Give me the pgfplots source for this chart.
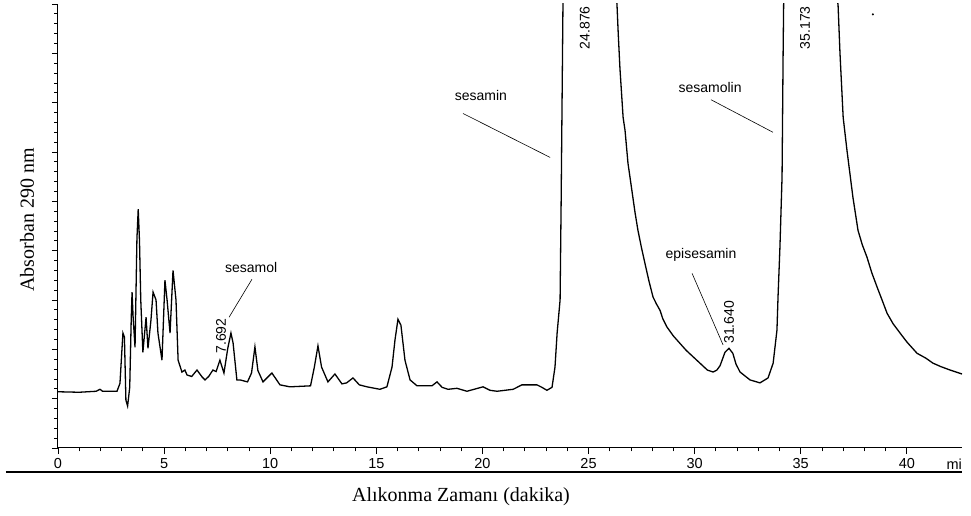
\documentclass[border=0pt]{standalone}
\usepackage{fontspec}
\setmainfont{Liberation Sans}
\newfontfamily\serif{Liberation Serif}
\usepackage{pgfplots}
\pgfplotsset{compat=1.18}

\begin{document}
\begin{tikzpicture}
\useasboundingbox (-58pt,-68pt) rectangle (913pt,448pt);
\begin{axis}[
    at={(0pt,0pt)}, anchor=south west,
    scale only axis,
    width=904pt, height=444pt,
    xmin=0, xmax=42.6,
    ymin=0, ymax=9,
    axis x line=bottom, axis y line=left,
    axis line style={-, line width=1pt},
    tick align=outside,
    xtick={0,5,...,40},
    minor x tick num=4,
    ytick={0,1,...,9},
    yticklabels={},
    minor y tick num=4,
    major tick length=6pt, minor tick length=3.5pt,
    every tick/.style={black, line width=0.8pt},
    /pgf/number format/assume math mode=true,
    xticklabel={\fontsize{14.5}{16}\selectfont\pgfmathprintnumber{\tick}},
    xticklabel style={yshift=-1pt},
    tick label style={black},
]

% chromatogram trace (absorbance in axis units, time in minutes)
\addplot[black, line width=1.3pt, sharp plot] coordinates {
 (0.00,1.14) (1.00,1.13) (1.80,1.15) (1.98,1.19) (2.10,1.15) (2.78,1.15)
 (2.92,1.31) (3.00,1.90) (3.06,2.33) (3.13,2.25) (3.20,0.97) (3.28,0.85)
 (3.38,1.23) (3.45,2.60) (3.49,3.16) (3.54,2.65) (3.63,2.04) (3.72,4.25)
 (3.78,4.84) (3.84,4.20) (3.90,3.00) (4.00,1.94) (4.15,2.65) (4.24,2.02)
 (4.38,2.59) (4.48,3.16) (4.62,3.00) (4.71,2.33) (4.90,1.78) (5.04,3.40)
 (5.14,3.00) (5.28,2.33) (5.42,3.60) (5.56,3.00) (5.66,1.78) (5.84,1.54)
 (5.98,1.58) (6.08,1.48) (6.30,1.45) (6.55,1.58) (6.79,1.44) (6.93,1.38)
 (7.10,1.45) (7.30,1.58) (7.45,1.55) (7.63,1.78) (7.82,1.52) (8.00,2.02)
 (8.15,2.33) (8.25,2.13) (8.43,1.38) (8.58,1.38) (8.93,1.34) (9.12,1.52)
 (9.28,2.05) (9.42,1.57) (9.66,1.34) (10.08,1.52) (10.46,1.28) (10.93,1.24)
 (11.90,1.26) (12.08,1.64) (12.25,2.07) (12.42,1.64) (12.72,1.34) (13.05,1.50)
 (13.38,1.30) (13.60,1.32) (13.90,1.42) (14.20,1.28) (14.56,1.24) (15.17,1.19)
 (15.50,1.24) (15.74,1.64) (15.88,2.19) (16.02,2.61) (16.16,2.49) (16.35,1.78)
 (16.59,1.38) (16.92,1.26) (17.62,1.26) (17.86,1.34) (18.10,1.23) (18.38,1.19)
 (18.80,1.21) (19.27,1.15) (20.03,1.24) (20.35,1.17) (20.69,1.15) (21.45,1.19)
 (21.86,1.28) (22.57,1.28) (22.80,1.23) (23.04,1.17) (23.28,1.23) (23.42,1.64)
 (23.52,2.33) (23.66,3.00) (23.71,5.00) (23.80,9.20) (24.88,60.0) (26.30,9.20)
 (26.34,9.00) (26.40,8.40) (26.48,7.70) (26.63,6.70) (26.72,6.44) (26.86,5.77)
 (27.00,5.35) (27.20,4.75) (27.33,4.41) (27.50,4.05) (27.66,3.74) (27.85,3.38)
 (28.04,3.06) (28.20,2.92) (28.37,2.79) (28.50,2.62) (28.70,2.45) (29.00,2.27)
 (29.31,2.12) (29.60,1.98) (29.80,1.90) (30.25,1.72) (30.60,1.58) (30.87,1.54)
 (31.05,1.58) (31.20,1.67) (31.43,1.94) (31.62,2.02) (31.80,1.92) (31.95,1.70)
 (32.14,1.54) (32.61,1.38) (33.08,1.32) (33.46,1.42) (33.70,1.72) (33.88,2.39)
 (33.93,3.06) (34.02,4.07) (34.12,5.50) (34.17,8.00) (34.20,9.20) (35.17,60.0)
 (36.70,9.20) (36.76,8.97) (36.85,8.00) (37.00,6.70) (37.18,6.03) (37.46,5.08)
 (37.70,4.41) (37.90,4.12) (38.12,3.87) (38.35,3.55) (38.60,3.26) (38.85,2.98)
 (39.07,2.73) (39.35,2.52) (39.68,2.33) (40.00,2.15) (40.48,1.92) (40.90,1.82)
 (41.23,1.72) (41.60,1.65) (42.04,1.58) (42.60,1.50)
};

% stray dot of the recorder
\addplot[black, only marks, mark=*, mark size=0.8pt] coordinates {(38.4,8.79)};

% peak annotations
\begin{scope}[font=\fontsize{14}{16}\selectfont]
\node at (axis cs:9.10,3.66) {sesamol};
\node at (axis cs:19.93,7.15) {sesamin};
\node at (axis cs:30.73,7.31) {sesamolin};
\node at (axis cs:30.30,3.91) {episesamin};
\node[rotate=90] at (axis cs:24.83,8.52) {24.876};
\node[rotate=90] at (axis cs:35.20,8.52) {35.173};
\node[rotate=90] at (axis cs:7.68,2.27) {7.692};
\node[rotate=90] at (axis cs:31.62,2.55) {31.640};
\end{scope}
\draw[line width=0.6pt] (axis cs:9.14,3.42) -- (axis cs:8.06,2.65);
\draw[line width=0.6pt] (axis cs:19.09,6.78) -- (axis cs:23.19,5.89);
\draw[line width=0.6pt] (axis cs:30.77,7.06) -- (axis cs:33.69,6.40);
\draw[line width=0.6pt] (axis cs:29.88,3.54) -- (axis cs:31.34,2.09);

\end{axis}

% unit mark, frame line and axis titles
\node[anchor=north east, font=\fontsize{14.5}{16}\selectfont, inner sep=0pt] at (904pt,-11pt) {mi};
\draw[line width=1.5pt] (-52pt,-24pt) -- (904pt,-24pt);
\node[font=\serif\fontsize{20}{24}\selectfont] at (403pt,-49pt) {Alıkonma Zamanı (dakika)};
\node[rotate=90, font=\serif\fontsize{20}{24}\selectfont] at (-31pt,228pt) {Absorban 290 nm};
\end{tikzpicture}
\end{document}
